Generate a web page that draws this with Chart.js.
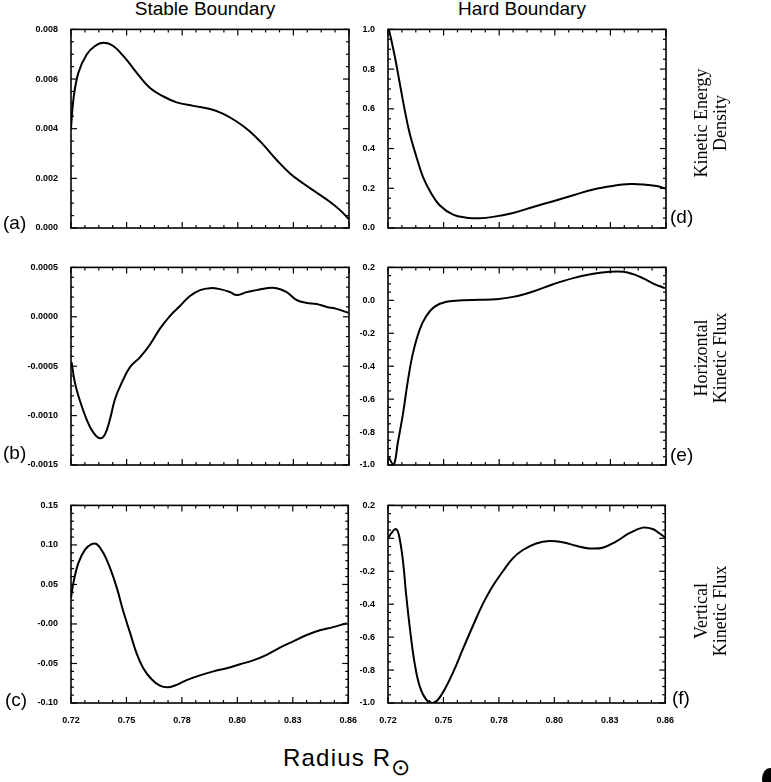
<!DOCTYPE html>
<html>
<head>
<meta charset="utf-8">
<script src="https://cdn.jsdelivr.net/npm/chart.js@4.4.0/dist/chart.umd.min.js"></script>
<style>
  body { margin: 0; background: #fff; }
  #page { position: relative; width: 771px; height: 782px; overflow: hidden; background: #fff;
          font-family: "Liberation Sans", Arial, sans-serif; color: #000; }
  canvas { position: absolute; }
  .title { position: absolute; top: -2px; width: 240px; font-size: 19px; line-height: 22px; text-align: center; }
  .tag { position: absolute; font-size: 19px; line-height: 20px; }
  .side { position: absolute; width: 170px; height: 40px; font-family: "Liberation Serif", "Times New Roman", serif;
          font-size: 18px; line-height: 19px; text-align: center; transform: rotate(-90deg); }
  #xlabel { position: absolute; left: 283px; top: 744px; font-size: 24px; letter-spacing: 1.2px; }
  #xlabel span { font-size: 23px; position: relative; top: 9px; letter-spacing: 0; }
  #blob { position: absolute; left: 762px; top: 768px; width: 16px; height: 22px; border-radius: 50%; background: #000; }
</style>
</head>
<body>
<div id="page">
  <div class="title" style="left:85px">Stable Boundary</div>
  <div class="title" style="left:402px">Hard Boundary</div>

  <canvas id="pa" width="350" height="233" style="left:11px;top:19px"></canvas>
  <canvas id="pb" width="350" height="232" style="left:11px;top:257px"></canvas>
  <canvas id="pc" width="350" height="232" style="left:11px;top:495px"></canvas>
  <canvas id="pd" width="350" height="233" style="left:328px;top:19px"></canvas>
  <canvas id="pe" width="350" height="232" style="left:328px;top:257px"></canvas>
  <canvas id="pf" width="350" height="232" style="left:328px;top:495px"></canvas>

  <div class="tag" style="left:3px;top:213px">(a)</div>
  <div class="tag" style="left:3px;top:443px">(b)</div>
  <div class="tag" style="left:5px;top:690px">(c)</div>
  <div class="tag" style="left:670px;top:207px">(d)</div>
  <div class="tag" style="left:670px;top:445px">(e)</div>
  <div class="tag" style="left:672px;top:688px">(f)</div>

  <div class="side" style="left:627px;top:103px">Kinetic Energy<br>Density</div>
  <div class="side" style="left:627px;top:338px">Horizontal<br>Kinetic Flux</div>
  <div class="side" style="left:627px;top:591px">Vertical<br>Kinetic Flux</div>

  <div id="xlabel">Radius R<span>⊙</span></div>
  <div id="blob"></div>
</div>

<script>
// radius ticks, shared by every panel
const xTicks = [0.72, 0.748, 0.776, 0.804, 0.832, 0.86];
const xTickLabels = ["0.72", "0.75", "0.78", "0.80", "0.83", "0.86"];

// (a) stable boundary - kinetic energy density
const rA = [0.720, 0.7212, 0.7237, 0.7279, 0.7321, 0.7363, 0.7413, 0.7472, 0.7531, 0.7598, 0.7665, 0.7732, 0.7816,
  0.7900, 0.7967, 0.8034, 0.8101, 0.8169, 0.8236, 0.8303, 0.8370, 0.8438, 0.8505, 0.8555, 0.860];
const keStable = [0.00402, 0.00517, 0.00625, 0.00699, 0.00733, 0.00746, 0.00733, 0.00685, 0.00625, 0.00564, 0.00530,
  0.00506, 0.00492, 0.00479, 0.00460, 0.00429, 0.00389, 0.00335, 0.00274, 0.00220, 0.00179, 0.00142, 0.00105, 0.00072, 0.00035];
const yTicksA = [0, 0.002, 0.004, 0.006, 0.008];
const yLabelsA = ["0.000", "0.002", "0.004", "0.006", "0.008"];

// (b) stable boundary - horizontal kinetic flux
const rB = [0.7203, 0.7220, 0.7245, 0.7279, 0.7312, 0.7346, 0.7371, 0.7396, 0.7422, 0.7455, 0.7497, 0.7547, 0.7598,
  0.7648, 0.7699, 0.7749, 0.7799, 0.7850, 0.7900, 0.7950, 0.8001, 0.8034, 0.8085, 0.8135, 0.8185, 0.8236, 0.8286,
  0.8336, 0.8387, 0.8437, 0.8488, 0.8538, 0.8597];
const hfStable = [-0.00046, -0.00067, -0.00085, -0.00104, -0.00117, -0.00123, -0.00119, -0.00104, -0.00083, -0.00067,
  -0.00051, -0.00041, -0.00028, -0.00012, 0.00001, 0.00011, 0.00021, 0.00027, 0.00029, 0.00028, 0.00025, 0.00022,
  0.00025, 0.00027, 0.00029, 0.00029, 0.00025, 0.00017, 0.00014, 0.00013, 0.00010, 0.00008, 0.00004];
const yTicksB = [-0.0015, -0.0010, -0.0005, 0, 0.0005];
const yLabelsB = ["-0.0015", "-0.0010", "-0.0005", "0.0000", "0.0005"];

// (c) stable boundary - vertical kinetic flux
const rC = [0.720, 0.7212, 0.7237, 0.7271, 0.7304, 0.7330, 0.7363, 0.7397, 0.7431, 0.7464, 0.7498, 0.7531, 0.7565,
  0.7607, 0.7649, 0.7691, 0.7733, 0.7784, 0.7851, 0.7919, 0.7986, 0.8053, 0.8120, 0.8188, 0.8255, 0.8322, 0.8390,
  0.8457, 0.8524, 0.8592];
const vfStable = [0.033, 0.052, 0.077, 0.094, 0.101, 0.101, 0.090, 0.071, 0.046, 0.016, -0.011, -0.037, -0.056,
  -0.070, -0.078, -0.080, -0.077, -0.071, -0.065, -0.060, -0.056, -0.051, -0.046, -0.039, -0.030, -0.022, -0.014,
  -0.008, -0.004, 0.001];
const yTicksC = [-0.10, -0.05, 0, 0.05, 0.10, 0.15];
const yLabelsC = ["-0.10", "-0.05", "-0.00", "0.05", "0.10", "0.15"];

// (d) hard boundary - kinetic energy density
const rD = [0.7205, 0.7234, 0.7259, 0.7284, 0.7309, 0.7343, 0.7376, 0.7418, 0.7460, 0.7528, 0.7595, 0.7662, 0.7729,
  0.7830, 0.7931, 0.8032, 0.8133, 0.8234, 0.8334, 0.8418, 0.8486, 0.8553, 0.8595];
const keHard = [1.0, 0.865, 0.73, 0.595, 0.477, 0.359, 0.258, 0.174, 0.115, 0.067, 0.052, 0.049, 0.056, 0.076,
  0.106, 0.135, 0.165, 0.194, 0.212, 0.221, 0.219, 0.211, 0.199];
const yTicksD = [0, 0.2, 0.4, 0.6, 0.8, 1.0];
const yLabelsD = ["0.0", "0.2", "0.4", "0.6", "0.8", "1.0"];

// (e) hard boundary - horizontal kinetic flux
const rE = [0.720, 0.7228, 0.7250, 0.7276, 0.7301, 0.7326, 0.7360, 0.7393, 0.7435, 0.7494, 0.7578, 0.7662, 0.7746,
  0.7830, 0.7931, 0.8032, 0.8133, 0.8234, 0.8318, 0.8385, 0.8435, 0.8486, 0.8536, 0.8595];
const hfHard = [-0.945, -1.0, -0.86, -0.685, -0.481, -0.319, -0.176, -0.095, -0.038, -0.009, 0.001, 0.003, 0.007,
  0.021, 0.054, 0.098, 0.135, 0.161, 0.174, 0.174, 0.159, 0.133, 0.102, 0.074];
const yTicksE = [-1.0, -0.8, -0.6, -0.4, -0.2, 0, 0.2];
const yLabelsE = ["-1.0", "-0.8", "-0.6", "-0.4", "-0.2", "0.0", "0.2"];

// (f) hard boundary - vertical kinetic flux
const rF = [0.720, 0.7217, 0.7239, 0.7255, 0.7276, 0.7292, 0.7313, 0.7334, 0.7360, 0.7393, 0.7424, 0.7452, 0.7486,
  0.7528, 0.7578, 0.7629, 0.7679, 0.7729, 0.7780, 0.7830, 0.7881, 0.7948, 0.8015, 0.8082, 0.8150, 0.8217, 0.8284,
  0.8351, 0.8419, 0.8486, 0.8536, 0.8570, 0.8600];
const vfHard = [0.0, 0.031, 0.057, 0.020, -0.143, -0.347, -0.571, -0.755, -0.898, -0.980, -1.0, -0.980, -0.918,
  -0.816, -0.673, -0.531, -0.398, -0.290, -0.200, -0.122, -0.071, -0.031, -0.016, -0.024, -0.045, -0.061, -0.057,
  -0.020, 0.031, 0.065, 0.057, 0.031, 0.004];
const yTicksF = yTicksE;
const yLabelsF = yLabelsE;

// IDL style box: frame on all sides with inward major and minor ticks
const idlFrame = {
  id: "idlFrame",
  afterDatasetsDraw(chart, args, opts) {
    const { ctx, chartArea: a, scales: { x, y } } = chart;
    ctx.save();
    ctx.strokeStyle = "#000";
    ctx.lineWidth = 1.6;
    ctx.strokeRect(a.left, a.top, a.right - a.left, a.bottom - a.top);
    ctx.lineWidth = 1.2;
    const seg = (x1, y1, x2, y2) => { ctx.beginPath(); ctx.moveTo(x1, y1); ctx.lineTo(x2, y2); ctx.stroke(); };
    const xt = x.ticks.map(t => t.value);
    xt.forEach((v, i) => {
      const p = x.getPixelForValue(v);
      seg(p, a.bottom, p, a.bottom - 6); seg(p, a.top, p, a.top + 6);
      if (i < xt.length - 1) {
        for (let k = 1; k < opts.minorX; k++) {
          const q = x.getPixelForValue(v + (xt[i + 1] - v) * k / opts.minorX);
          seg(q, a.bottom, q, a.bottom - 3); seg(q, a.top, q, a.top + 3);
        }
      }
    });
    const yt = y.ticks.map(t => t.value);
    yt.forEach((v, i) => {
      const p = y.getPixelForValue(v);
      seg(a.left, p, a.left + 6, p); seg(a.right, p, a.right - 6, p);
      if (i < yt.length - 1) {
        for (let k = 1; k < opts.minorY; k++) {
          const q = y.getPixelForValue(v + (yt[i + 1] - v) * k / opts.minorY);
          seg(a.left, q, a.left + 3, q); seg(a.right, q, a.right - 3, q);
        }
      }
    });
    ctx.restore();
  }
};

const tickFont = { family: "Liberation Sans", size: 9, weight: "bold" };

function makePanel(id, r, vals, yTicks, yLabels, minorY, showX) {
  return new Chart(document.getElementById(id), {
    type: "line",
    data: {
      datasets: [{
        data: r.map((v, i) => ({ x: v, y: vals[i] })),
        borderColor: "#000",
        borderWidth: 2,
        pointRadius: 0,
        tension: 0.4,
        fill: false
      }]
    },
    options: {
      responsive: false,
      animation: false,
      devicePixelRatio: 1,
      layout: { padding: { left: 0, top: 10, right: 12, bottom: 0 } },
      plugins: {
        legend: { display: false },
        tooltip: { enabled: false },
        idlFrame: { minorX: 4, minorY: minorY }
      },
      scales: {
        x: {
          type: "linear",
          min: xTicks[0],
          max: xTicks[xTicks.length - 1],
          grid: { display: false },
          border: { display: false },
          afterBuildTicks: s => { s.ticks = xTicks.map(v => ({ value: v })); },
          afterFit: s => { s.height = 24; },
          ticks: {
            display: showX,
            autoSkip: false,
            maxRotation: 0,
            padding: 4,
            color: "#000",
            font: tickFont,
            callback: (v, i) => xTickLabels[i]
          }
        },
        y: {
          min: yTicks[0],
          max: yTicks[yTicks.length - 1],
          grid: { display: false },
          border: { display: false },
          afterBuildTicks: s => { s.ticks = yTicks.map(v => ({ value: v })); },
          afterFit: s => { s.width = 60; },
          ticks: {
            autoSkip: false,
            padding: 5,
            color: "#000",
            font: tickFont,
            callback: (v, i) => yLabels[i]
          }
        }
      }
    },
    plugins: [idlFrame]
  });
}

makePanel("pa", rA, keStable, yTicksA, yLabelsA, 4, false);
makePanel("pb", rB, hfStable, yTicksB, yLabelsB, 5, false);
makePanel("pc", rC, vfStable, yTicksC, yLabelsC, 5, true);
makePanel("pd", rD, keHard, yTicksD, yLabelsD, 4, false);
makePanel("pe", rE, hfHard, yTicksE, yLabelsE, 4, false);
makePanel("pf", rF, vfHard, yTicksF, yLabelsF, 4, true);
</script>
</body>
</html>
